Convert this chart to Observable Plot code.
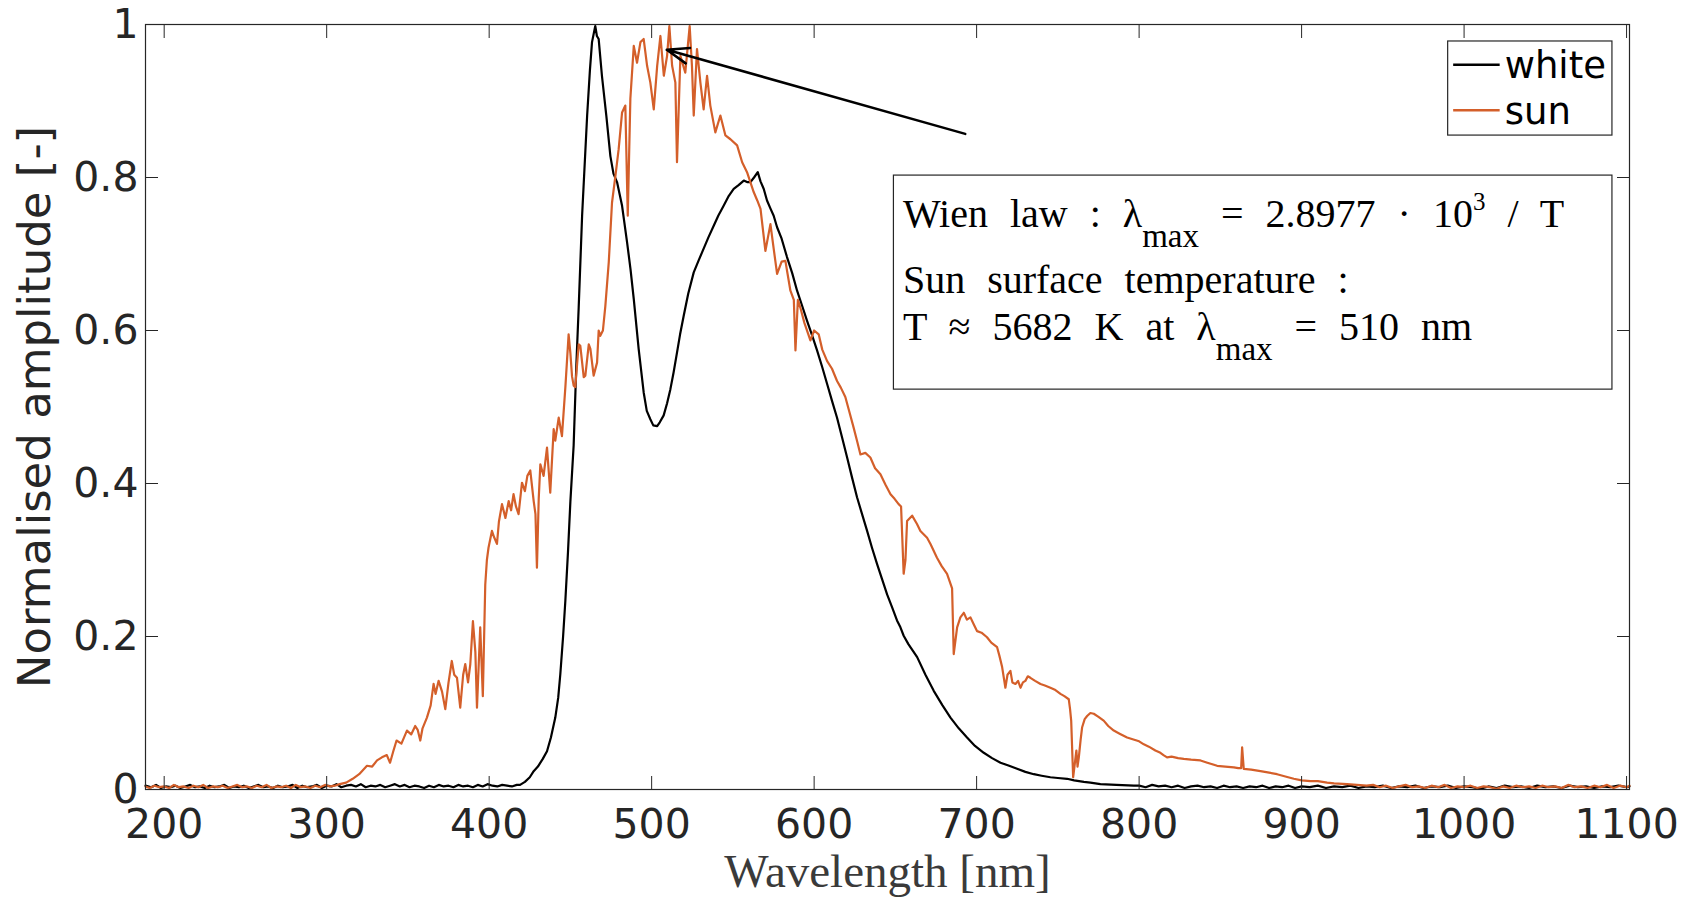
<!DOCTYPE html>
<html>
<head>
<meta charset="utf-8">
<script src="https://cdn.jsdelivr.net/npm/d3@7"></script>
<script src="https://cdn.jsdelivr.net/npm/@observablehq/plot@0.6"></script>
<style>
  html, body { margin: 0; padding: 0; background: #ffffff; }
  #chart { width: 1694px; height: 902px; }
</style>
</head>
<body>
<div id="chart"></div>
<script>
// ---------------- data ----------------
const seriesNames = ["white", "sun"];
const seriesColors = ["#000000", "#D45F2A"];

const xTicks = [200, 300, 400, 500, 600, 700, 800, 900, 1000, 1100];
const yTicks = [0, 0.2, 0.4, 0.6, 0.8, 1];
const yTickLabels = ["0", "0.2", "0.4", "0.6", "0.8", "1"];

const xLabel = "Wavelength [nm]";
const yLabel = "Normalised amplitude [-]";

// [wavelength nm, normalised amplitude]
const whiteSpectrum = [
  [188.5,0.005],[192,0.003],[195,0.006],[198,0.002],[201,0.004],[204,0.003],[207,0.005],[210,0.002],[213,0.004],[216,0.006],
  [219,0.003],[222,0.004],[225,0.002],[228,0.005],[231,0.003],[234,0.004],[237,0.006],[240,0.002],[243,0.004],[246,0.003],
  [249,0.005],[252,0.002],[255,0.004],[258,0.006],[261,0.003],[264,0.004],[267,0.002],[270,0.005],[273,0.003],[276,0.004],
  [279,0.006],[282,0.002],[285,0.005],[288,0.003],[291,0.004],[294,0.006],[297,0.002],[300,0.005],[303,0.004],[306,0.007],
  [309,0.003],[312,0.005],[315,0.006],[318,0.004],[321,0.007],[324,0.003],[327,0.005],[330,0.004],[333,0.006],[336,0.003],
  [339,0.005],[342,0.007],[345,0.004],[348,0.006],[351,0.003],[354,0.005],[357,0.004],[360,0.002],[363,0.005],[366,0.003],
  [369,0.006],[372,0.004],[375,0.005],[378,0.003],[381,0.006],[384,0.004],[387,0.005],[390,0.003],[393,0.006],[396,0.004],
  [399,0.007],[402,0.005],[405,0.004],[408,0.006],[411,0.005],[414,0.004],[417,0.006],[419,0.006],[422,0.010],[425,0.016],
  [427.4,0.024],[430,0.030],[433,0.040],[435.6,0.050],[438,0.068],[440.7,0.094],[442.5,0.120],[443.8,0.151],[445.5,0.200],[446.9,0.247],
  [448.5,0.310],[450,0.377],[452,0.450],[453.6,0.552],[455.1,0.630],[457.2,0.750],[460.3,0.881],[462,0.940],[463.3,0.977],[465.3,0.998],
  [466.3,0.985],[467.4,0.981],[469.4,0.933],[472.1,0.881],[474.6,0.828],[476.5,0.805],[478.7,0.794],[481.8,0.763],[484.9,0.715],[487,0.680],
  [489,0.641],[492,0.576],[495.1,0.519],[497,0.495],[499.2,0.484],[501,0.476],[503.4,0.475],[505,0.480],[507.4,0.489],[509.5,0.505],
  [511.5,0.523],[513.5,0.545],[515.6,0.571],[517.5,0.595],[519.7,0.619],[522.5,0.648],[525.9,0.676],[529,0.692],[532,0.707],[535,0.722],
  [538.2,0.737],[541,0.750],[544.3,0.763],[547.5,0.776],[550.5,0.785],[553.5,0.790],[556.7,0.796],[558.7,0.794],[560.8,0.794],[563,0.800],
  [565.3,0.807],[567,0.795],[569,0.785],[571,0.770],[573,0.760],[575.1,0.750],[577.2,0.735],[580,0.720],[583.3,0.696],[586.5,0.675],
  [589.5,0.652],[592.5,0.633],[595.6,0.613],[598.7,0.594],[601.8,0.574],[605,0.552],[608,0.530],[611,0.508],[614.1,0.486],[617.2,0.460],
  [620.3,0.434],[623.3,0.408],[626.4,0.382],[629.5,0.360],[632.6,0.338],[635.6,0.316],[638.7,0.295],[641.8,0.275],[644.9,0.255],[648,0.238],
  [651,0.221],[653.1,0.212],[655.1,0.201],[658,0.190],[663.4,0.173],[668.5,0.150],[673.6,0.129],[679,0.110],[683.9,0.094],[689,0.080],
  [694.1,0.068],[699,0.057],[704.4,0.048],[709.5,0.041],[714.7,0.035],[720,0.031],[724.9,0.027],[730,0.023],[735.2,0.020],[740,0.018],
  [745.4,0.016],[750,0.015],[755.7,0.014],[760,0.012],[766,0.010],[770,0.009],[776.2,0.007],[786,0.006],[796.8,0.005],[800,0.005],
  [804,0.003],[808,0.006],[812,0.004],[816,0.005],[820,0.003],[824,0.005],[828,0.002],[832,0.004],[836,0.005],[840,0.003],
  [844,0.004],[848,0.002],[852,0.005],[856,0.003],[860,0.004],[864,0.002],[868,0.004],[872,0.003],[876,0.005],[880,0.002],
  [884,0.004],[888,0.003],[892,0.005],[896,0.002],[900,0.004],[905,0.003],[910,0.005],[915,0.002],[920,0.004],[925,0.003],
  [930,0.005],[935,0.002],[940,0.004],[945,0.003],[950,0.005],[955,0.002],[960,0.004],[965,0.003],[970,0.005],[975,0.002],
  [980,0.004],[985,0.003],[990,0.005],[995,0.002],[1000,0.004],[1005,0.003],[1010,0.001],[1015,0.004],[1020,0.002],[1025,0.005],
  [1030,0.003],[1035,0.004],[1040,0.002],[1045,0.005],[1050,0.003],[1055,0.004],[1060,0.002],[1065,0.005],[1070,0.003],[1075,0.004],
  [1080,0.002],[1085,0.004],[1090,0.003],[1095,0.005],[1100,0.003],[1101.8,0.004]
];

const sunSpectrum = [
  [188.5,0.004],[191,0.002],[194,0.005],[197,0.003],[200,0.004],[203,0.002],[206,0.006],[209,0.003],[212,0.004],[215,0.002],
  [218,0.005],[221,0.003],[224,0.006],[227,0.002],[230,0.004],[233,0.003],[236,0.005],[239,0.002],[242,0.004],[245,0.006],
  [248,0.003],[251,0.004],[254,0.002],[257,0.005],[260,0.003],[263,0.006],[266,0.002],[269,0.004],[272,0.003],[275,0.005],
  [278,0.002],[281,0.006],[284,0.003],[287,0.004],[290,0.002],[293,0.005],[296,0.003],[299,0.006],[302,0.004],[305,0.005],
  [308,0.007],[312,0.009],[316,0.014],[320,0.020],[324.8,0.031],[328,0.030],[331,0.038],[334,0.042],[337,0.045],[339,0.035],
  [341,0.050],[343,0.064],[346,0.060],[349.4,0.077],[352,0.072],[354.5,0.083],[356,0.078],[357.6,0.064],[359,0.080],[361.7,0.094],
  [364,0.110],[365.8,0.138],[367,0.125],[368.9,0.142],[371,0.128],[373,0.105],[375,0.140],[377,0.168],[378.5,0.150],[380.2,0.146],
  [382.2,0.107],[384,0.150],[385.3,0.164],[387,0.140],[388.4,0.164],[390,0.220],[391.5,0.180],[392.5,0.107],[394.5,0.212],[396.1,0.122],
  [397.6,0.268],[398.6,0.300],[399.6,0.316],[401.7,0.338],[403,0.330],[404.8,0.321],[406,0.350],[407.9,0.373],[410,0.355],[412,0.377],
  [413.5,0.365],[415,0.386],[416.5,0.370],[418.1,0.360],[420.2,0.401],[422,0.390],[423.5,0.410],[425.3,0.417],[427.4,0.377],[428.5,0.360],
  [429.4,0.290],[430.5,0.380],[431.5,0.425],[433.5,0.410],[435.6,0.447],[437.6,0.388],[439.7,0.471],[440.7,0.456],[442.8,0.486],[444.8,0.462],
  [446.9,0.526],[448.9,0.595],[450,0.570],[451,0.540],[452,0.528],[453,0.526],[455.1,0.582],[456.1,0.580],[458.2,0.539],[459.2,0.541],
  [461.3,0.582],[462.3,0.576],[464.3,0.541],[466.4,0.558],[467.4,0.600],[468.4,0.593],[470,0.600],[471.5,0.632],[473.6,0.689],[475.6,0.767],
  [477.7,0.802],[479.7,0.837],[481.8,0.885],[483.8,0.894],[485.3,0.750],[486.9,0.903],[489,0.972],[491,0.950],[493.1,0.977],[495.1,0.981],
  [497.2,0.946],[499.2,0.924],[501.3,0.889],[503.4,0.946],[505.4,0.985],[507.5,0.933],[509.5,0.959],[510.9,0.998],[512.6,0.946],[514.6,0.924],
  [515.6,0.820],[517.7,0.959],[520.7,0.937],[523.4,0.998],[524.8,0.946],[525.9,0.881],[527.9,0.968],[530,0.924],[532,0.889],[534.1,0.933],
  [536.1,0.894],[539.2,0.859],[542.3,0.881],[545.4,0.855],[548.5,0.850],[552.6,0.842],[555.7,0.820],[558.7,0.807],[562.8,0.781],[565,0.770],
  [567,0.759],[570,0.704],[573.1,0.739],[575.1,0.707],[577.2,0.674],[580,0.690],[582.3,0.691],[585.4,0.652],[587.5,0.640],[588.5,0.574],
  [590,0.640],[591.5,0.630],[594,0.610],[597.7,0.587],[600,0.600],[602.8,0.595],[605,0.575],[608,0.560],[611,0.550],[614.1,0.534],
  [616.5,0.525],[619.2,0.513],[621.5,0.495],[624.3,0.473],[626.5,0.455],[628.5,0.438],[631.5,0.440],[634.6,0.434],[637.5,0.420],[640.8,0.412],
  [644,0.398],[647,0.386],[649.5,0.380],[652,0.373],[653.5,0.370],[655.1,0.282],[656.2,0.300],[657.2,0.351],[660.3,0.358],[663.3,0.347],
  [665.4,0.338],[669.5,0.329],[671.6,0.321],[675.6,0.303],[678.5,0.292],[681.8,0.282],[684.9,0.263],[685.9,0.177],[688,0.212],[690,0.225],
  [692.1,0.231],[694,0.222],[696.2,0.225],[698.2,0.216],[700.3,0.207],[703,0.205],[706.4,0.199],[709,0.192],[712.6,0.186],[714,0.175],
  [715.7,0.160],[717.7,0.133],[719,0.150],[720.8,0.155],[722,0.140],[723.9,0.138],[725.5,0.142],[727,0.133],[728.5,0.140],[730,0.142],
  [731.5,0.148],[733.1,0.146],[736,0.142],[739.3,0.138],[742,0.136],[745.4,0.133],[748.5,0.130],[751.6,0.125],[754,0.122],[756.7,0.118],
  [757.5,0.105],[758.2,0.090],[759.4,0.016],[760.5,0.035],[761.4,0.051],[762.1,0.030],[762.9,0.042],[764,0.065],[764.9,0.081],[766.5,0.092],
  [768,0.096],[770,0.100],[772.1,0.099],[775,0.095],[778.2,0.090],[781,0.083],[784.4,0.077],[788,0.073],[792.6,0.068],[797,0.065],
  [800,0.063],[802.9,0.059],[806,0.056],[810,0.051],[813.1,0.048],[815,0.045],[817.2,0.042],[820,0.043],[824,0.041],[827.5,0.040],
  [832,0.039],[837.8,0.038],[842,0.035],[848,0.031],[853,0.030],[858.3,0.029],[861,0.028],[862.8,0.028],[863.4,0.055],[864.4,0.027],
  [869,0.026],[874.7,0.024],[880,0.022],[884.9,0.020],[890,0.017],[895.2,0.014],[900,0.012],[905.5,0.011],[910,0.011],[915.7,0.009],
  [920,0.008],[928,0.007],[934,0.006],[940,0.005],[944,0.006],[948,0.003],[952,0.005],[956,0.002],[960,0.004],[964,0.006],
  [968,0.003],[972,0.004],[976,0.002],[980,0.005],[984,0.003],[988,0.006],[992,0.002],[996,0.004],[1000,0.003],[1004,0.005],
  [1008,0.002],[1012,0.004],[1016,0.003],[1020,0.001],[1024,0.004],[1028,0.002],[1032,0.005],[1036,0.003],[1040,0.004],[1044,0.002],
  [1048,0.005],[1052,0.003],[1056,0.004],[1060,0.002],[1064,0.006],[1068,0.003],[1072,0.004],[1076,0.002],[1080,0.005],[1084,0.003],
  [1088,0.006],[1092,0.002],[1096,0.005],[1100,0.003],[1101.8,0.005]
];

// annotation anchors in data units
const arrowFrom = [693.0, 0.857];
const arrowTo = [509.3, 0.967];
const legendBoxNm = [990.2, 1091.3];
const legendBoxAmp = [0.9778, 0.8548];
const textBoxNm = [649.1, 1091.3];
const textBoxAmp = [0.8025, 0.5227];

// ---------------- chart ----------------
const axisColor = "#262626";
const sansFont = "'DejaVu Sans', sans-serif";
const serifFont = "'Liberation Serif', 'Times New Roman', serif";

const whiteData = whiteSpectrum.map(([nm, a]) => ({nm, a}));
const sunData = sunSpectrum.map(([nm, a]) => ({nm, a}));

function legendMark(index, scales) {
  const {x, y} = scales;
  const g = d3.create("svg:g").attr("text-anchor", "start");
  const x1 = x(legendBoxNm[0]), x2 = x(legendBoxNm[1]);
  const y1 = y(legendBoxAmp[0]), y2 = y(legendBoxAmp[1]);
  g.append("rect").attr("x", x1).attr("y", y1).attr("width", x2 - x1).attr("height", y2 - y1)
    .attr("fill", "white").attr("stroke", axisColor).attr("stroke-width", 1.2);
  const rowY = [y1 + 23.8, y1 + 69.2];
  seriesNames.forEach((name, i) => {
    g.append("line").attr("x1", x1 + 5.5).attr("x2", x1 + 52).attr("y1", rowY[i]).attr("y2", rowY[i])
      .attr("stroke", seriesColors[i]).attr("stroke-width", 2.5);
    g.append("text").attr("x", x1 + 57).attr("y", rowY[i]).attr("dy", "0.36em")
      .attr("text-anchor", "start")
      .attr("font-family", sansFont).attr("font-size", 37).attr("fill", "#000")
      .text(name);
  });
  return g.node();
}

function textBoxMark(index, scales) {
  const {x, y} = scales;
  const g = d3.create("svg:g").attr("text-anchor", "start");
  const x1 = x(textBoxNm[0]), x2 = x(textBoxNm[1]);
  const y1 = y(textBoxAmp[0]), y2 = y(textBoxAmp[1]);
  g.append("rect").attr("x", x1).attr("y", y1).attr("width", x2 - x1).attr("height", y2 - y1)
    .attr("fill", "white").attr("stroke", axisColor).attr("stroke-width", 1.2);
  const tx = x1 + 9.5;
  const mk = (yy) => g.append("text").attr("x", tx).attr("y", yy)
      .attr("text-anchor", "start")
      .attr("font-family", serifFont).attr("font-size", 40).attr("fill", "#000")
      .attr("word-spacing", "12px").attr("xml:space", "preserve");
  const t1 = mk(y1 + 51.7);
  t1.append("tspan").text("Wien law : λ");
  t1.append("tspan").attr("dy", 20).attr("font-size", 33).text("max");
  t1.append("tspan").attr("dy", -20).text(" = 2.8977 · 10");
  t1.append("tspan").attr("dy", -17).attr("font-size", 25).text("3");
  t1.append("tspan").attr("dy", 17).text(" / T");
  const t2 = mk(y1 + 118.3);
  t2.append("tspan").text("Sun surface temperature :");
  const t3 = mk(y1 + 165);
  t3.append("tspan").text("T ≈ 5682 K at λ");
  t3.append("tspan").attr("dy", 20).attr("font-size", 33).text("max");
  t3.append("tspan").attr("dy", -20).text(" = 510 nm");
  return g.node();
}

const chart = Plot.plot({
  width: 1694,
  height: 902,
  marginLeft: 145,
  marginRight: 65,
  marginTop: 24,
  marginBottom: 113,
  style: {fontFamily: sansFont, color: axisColor, background: "white", overflow: "visible"},
  x: {domain: [188.5, 1101.8]},
  y: {domain: [0, 1]},
  marks: [
    Plot.line(whiteData, {x: "nm", y: "a", stroke: seriesColors[0], strokeWidth: 2.2}),
    Plot.line(sunData, {x: "nm", y: "a", stroke: seriesColors[1], strokeWidth: 2.2}),
    Plot.frame({stroke: axisColor, strokeWidth: 1.2}),
    // inward ticks on all four sides
    Plot.axisX(xTicks, {anchor: "bottom", tickSize: -13, tickFormat: () => "", label: null, stroke: axisColor}),
    Plot.axisX(xTicks, {anchor: "top", tickSize: -13, tickFormat: () => "", label: null, stroke: axisColor}),
    Plot.axisY(yTicks, {anchor: "left", tickSize: -13, tickFormat: () => "", label: null, stroke: axisColor}),
    Plot.axisY(yTicks, {anchor: "right", tickSize: -13, tickFormat: () => "", label: null, stroke: axisColor}),
    // tick labels
    Plot.axisX(xTicks, {anchor: "bottom", tickSize: 0, tickPadding: 19, fontSize: 41, tickFormat: d => String(d), label: null, fill: axisColor}),
    Plot.axisY(yTicks, {anchor: "left", tickSize: 0, tickPadding: 7, fontSize: 41, tickFormat: (d, i) => yTickLabels[i], label: null, fill: axisColor}),
    // axis titles
    Plot.text([yLabel], {frameAnchor: "left", text: d => d, rotate: -90, dx: -110, fontSize: 45, fill: axisColor, fontFamily: sansFont, textAnchor: "middle", lineAnchor: "middle"}),
    Plot.text([xLabel], {frameAnchor: "bottom", text: d => d, dy: 64, fontSize: 47, fill: "#3a3a3a", fontFamily: serifFont, textAnchor: "middle", lineAnchor: "top"}),
    // annotations
    Plot.arrow([{x1: arrowFrom[0], y1: arrowFrom[1], x2: arrowTo[0], y2: arrowTo[1]}],
      {x1: "x1", y1: "y1", x2: "x2", y2: "y2", stroke: "black", strokeWidth: 2.5, headLength: 14, headAngle: 40}),
    legendMark,
    textBoxMark
  ]
});

document.getElementById("chart").appendChild(chart);
</script>
</body>
</html>
